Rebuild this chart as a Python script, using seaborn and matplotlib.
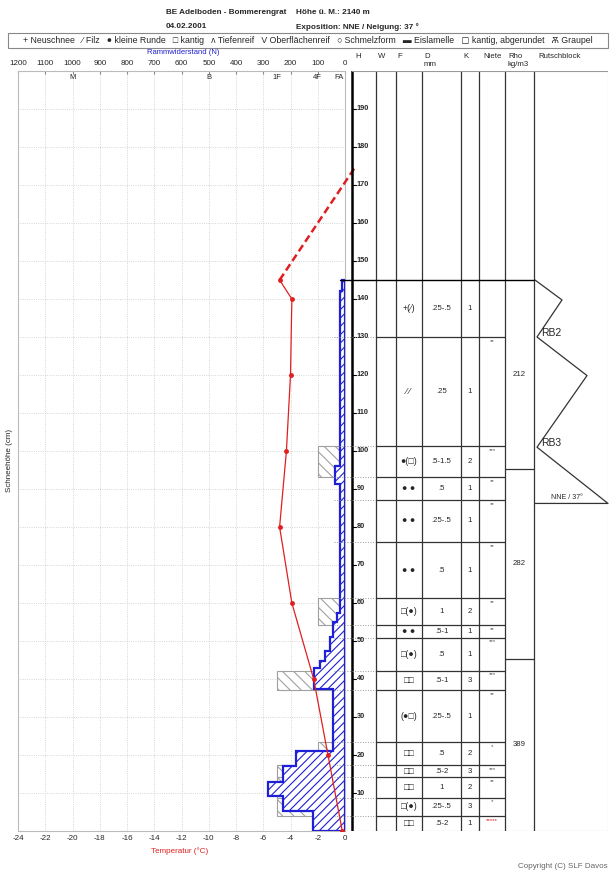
import numpy as np
import matplotlib
matplotlib.use('Agg')
import matplotlib.pyplot as plt
from matplotlib.patches import Rectangle
import seaborn as sns

# --- data ---
temp_h = [145, 140, 120, 100, 80, 60, 40, 20, 0]
temp_c = [-4.8, -3.9, -4.0, -4.3, -4.8, -3.9, -2.3, -1.25, -0.2]
air_h = 175
air_c = 0.8

ram_top = [145, 142, 96, 91.3, 57.5, 55, 51, 47.4, 44.8, 43, 37.4, 21.1, 17.2, 13, 9.1, 5.3]
ram_n = [12, 20, 37, 20, 28, 43, 55, 74, 92, 113, 45, 181, 228, 284, 228, 117]

layer_b = [145, 130, 101.2, 93.2, 87.1, 76.1, 61.2, 54.3, 50.9, 42.2, 37.1, 23.3, 17.4, 14.1, 8.8, 4.0, 0]
grain = ['+(⁄)', '⁄ ⁄', '●(□)', '● ●', '● ●', '● ●', '□(●)', '● ●', '□(●)', '□□',
         '(●□)', '□□', '□□', '□□', '□(●)', '□□']
size_mm = ['.25-.5', '.25', '.5-1.5', '.5', '.25-.5', '.5', '1', '.5-1', '.5', '.5-1',
           '.25-.5', '.5', '.5-2', '1', '.25-.5', '.5-2']
hand_k = ['1', '1', '2', '1', '1', '1', '2', '1', '1', '3', '1', '2', '3', '2', '3', '1']
niete = ['', '**', '***', '**', '**', '**', '**', '**', '***', '***', '**', '*', '***', '**', '*', '*****']
hand_n = [0, 0, 100, 0, 0, 0, 100, 0, 0, 250, 0, 100, 250, 250, 250, 100]

rho_b = [145, 95.3, 45.3, 0]
rho = [212, 282, 389]

rb_b = [145, 130, 101]
rb_lab = ['RB2', 'RB3']
rb_end = 86.2

hard_lab = ['FA', '4F', '1F', 'B', 'M']
hard_val = [20, 100, 250, 500, 1000]

W, H = 616, 872
sns.set_style('white')
plt.rcParams['font.family'] = ['Liberation Sans', 'DejaVu Sans']
plt.rcParams['axes.unicode_minus'] = False
plt.rcParams['hatch.linewidth'] = 0.8

fig = plt.figure(figsize=(W / 100, H / 100), dpi=100)


def ptxt(px, py, s, **kw):
    fig.text(px / W, 1 - py / H, s, **kw)


# header
ptxt(166, 12, 'BE Adelboden - Bommerengrat', fontsize=5.9, fontweight='bold', va='center')
ptxt(296, 12, 'Höhe ü. M.: 2140 m', fontsize=5.9, fontweight='bold', va='center')
ptxt(166, 27, '04.02.2001', fontsize=5.9, fontweight='bold', va='center')
ptxt(296, 27, 'Exposition: NNE / Neigung: 37 °', fontsize=5.9, fontweight='bold', va='center')
fig.patches.append(Rectangle((8 / W, 1 - 48 / H), 600 / W, 15 / H, transform=fig.transFigure,
                             fill=False, ec='#888888', lw=0.8))
ptxt(308, 40.5, '+ Neuschnee   ⁄ Filz   ● kleine Runde   □ kantig   ʌ Tiefenreif   V Oberflächenreif   '
     '○ Schmelzform   ▬ Eislamelle   ▢ kantig, abgerundet   Ѫ Graupel',
     fontsize=6.35, ha='center', va='center')

# main plot: ram resistance (top axis) + temperature (bottom axis)
top_px, bot_px = 71, 831
ax = fig.add_axes([18 / W, 1 - bot_px / H, 327 / W, (bot_px - top_px) / H])
ax.set_xlim(1200, 0)
ax.set_ylim(0, 200)
ax.set_xticks(range(0, 1201, 100))
ax.set_yticks(range(0, 201, 10))
ax.grid(True, ls=':', color='#c8c8c8', lw=0.6)
ax.set_axisbelow(True)
for s in ax.spines.values():
    s.set_color('#bbbbbb')
    s.set_linewidth(0.8)

# hand hardness boxes
for i in range(len(grain)):
    if hand_n[i] > 0:
        ax.barh((layer_b[i] + layer_b[i + 1]) / 2, hand_n[i], height=layer_b[i] - layer_b[i + 1],
                left=0, color='white', edgecolor='#a0a0a0', hatch='\\\\\\', lw=0.8, zorder=2)

# ram profile
xs, ys = [0], [ram_top[0]]
bottoms = ram_top[1:] + [0]
for t, b, v in zip(ram_top, bottoms, ram_n):
    xs += [v, v]
    ys += [t, b]
xs.append(0)
ys.append(0)
ax.fill(xs, ys, facecolor='white', edgecolor='#1f1fd8', hatch='////', lw=1.6, zorder=3)

for lab, v in zip(hard_lab, hard_val):
    ax.text(v, 198.3, lab, fontsize=5.5, ha='center', va='center')

axt = ax.twiny()
axt.set_xlim(-24, 0)
axt.set_ylim(0, 200)
axt.xaxis.tick_bottom()
axt.xaxis.set_label_position('bottom')
axt.set_xticks(range(-24, 1, 2))
axt.tick_params(axis='x', labelsize=5.8, length=0, pad=3)
for s in axt.spines.values():
    s.set_visible(False)

# twiny moves the ram ticks to the bottom, put them back on top
ax.xaxis.tick_top()
ax.xaxis.set_label_position('top')
ax.tick_params(axis='x', labelsize=5.8, length=2, direction='in', pad=3, color='#888888',
               labeltop=True, labelbottom=False, top=True, bottom=False)
ax.tick_params(axis='y', length=0, labelleft=False)

axt.plot([temp_c[0], air_c], [temp_h[0], air_h], color='#e02020', lw=1.8, ls=(0, (3, 1.6)),
         clip_on=False, zorder=4)
sns.lineplot(x=temp_c, y=temp_h, sort=False, estimator=None, ax=axt, color='#e02020', lw=0.9,
             marker='o', markersize=3.5, markeredgewidth=0, zorder=5)
axt.set_xlabel('')
axt.set_ylabel('')

ptxt(183, 52, 'Rammwiderstand (N)', fontsize=5.5, color='#2020d0', ha='center', va='center')
ptxt(180, 851, 'Temperatur (°C)', fontsize=5.8, color='#e02020', ha='center', va='center')
ptxt(10, 460, 'Schneehöhe (cm)', fontsize=5.8, rotation=90, ha='center', va='center')
ptxt(608, 866, 'Copyright (C) SLF Davos', fontsize=5.8, color='#666666', ha='right', va='center')

# table on the right, x in pixel units
tab = fig.add_axes([300 / W, 1 - bot_px / H, 308 / W, (bot_px - top_px) / H])
tab.set_xlim(300, 608)
tab.set_ylim(0, 200)
tab.axis('off')
tab.set_zorder(10)
tab.patch.set_alpha(0)

cols = [352, 376, 396, 422, 461, 479, 505, 534, 608]
tab.plot([cols[0], cols[0]], [0, 200], color='black', lw=1.8)
for x in cols[1:-1]:
    tab.plot([x, x], [0, 200], color='#333333', lw=0.9)
tab.plot([cols[-1], cols[-1]], [0, 200], color='#bbbbbb', lw=0.8)
tab.plot([cols[0], cols[-1]], [200, 200], color='#999999', lw=0.8)
tab.plot([cols[0], cols[-1]], [0, 0], color='#999999', lw=0.8)

for h in range(10, 200, 10):
    tab.plot([352, 356], [h, h], color='black', lw=0.8)
    tab.text(357, h, str(h), fontsize=5.3, fontweight='bold', va='center', ha='left')

heads = [(355, 'H'), (378, 'W'), (397, 'F'), (424, 'D'), (463, 'K'), (483, 'Niete'), (508, 'Rho'),
         (538, 'Rutschblock')]
for px, s in heads:
    ptxt(px, 57, s, fontsize=5.6, va='center')
ptxt(424, 64, 'mm', fontsize=5.6, va='center')
ptxt(508, 64, 'kg/m3', fontsize=5.6, va='center')

# layers
tab.plot([340, cols[7]], [layer_b[0], layer_b[0]], color='black', lw=1.0)
for b in layer_b[1:-1]:
    tab.plot([334, cols[1]], [b, b], color='#999999', lw=0.7, ls=':')
    tab.plot([cols[1], cols[6]], [b, b], color='#333333', lw=0.9)
for i in range(len(grain)):
    t, b = layer_b[i], layer_b[i + 1]
    m = (t + b) / 2
    tab.text((cols[2] + cols[3]) / 2, m, grain[i], fontsize=6.4, ha='center', va='center')
    tab.text((cols[3] + cols[4]) / 2, m, size_mm[i], fontsize=5.6, ha='center', va='center')
    tab.text((cols[4] + cols[5]) / 2, m, hand_k[i], fontsize=5.6, ha='center', va='center')
    tab.text((cols[5] + cols[6]) / 2, t - 0.5, niete[i], fontsize=4.5, ha='center', va='top',
             color='#e02020' if i == len(grain) - 1 else '#555555')

for b in rho_b[1:-1]:
    tab.plot([cols[6], cols[7]], [b, b], color='#333333', lw=0.9)
for i, r in enumerate(rho):
    tab.text((cols[6] + cols[7]) / 2, (rho_b[i] + rho_b[i + 1]) / 2, str(r), fontsize=5.6,
             ha='center', va='center')

# rutschblock zigzag
spikes = [562, 587]
zx, zy = [535], [rb_b[0]]
for i in range(len(rb_lab)):
    t, b = rb_b[i], rb_b[i + 1]
    zx += [spikes[i], 537]
    zy += [t - 0.35 * (t - b), b]
    tab.text(541, b + 1, rb_lab[i], fontsize=7.5, va='center', ha='left')
zx += [608, 535]
zy += [rb_end, rb_end]
tab.plot(zx, zy, color='#333333', lw=0.9, clip_on=False)
tab.text(567, rb_end + 1.6, 'NNE / 37°', fontsize=5, ha='center', va='center')

fig.savefig('out.png', dpi=100)
